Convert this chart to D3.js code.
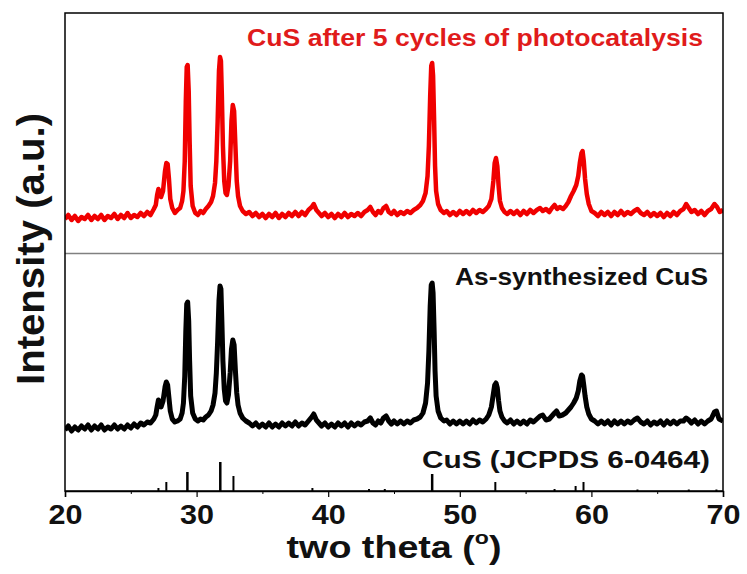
<!DOCTYPE html>
<html>
<head>
<meta charset="utf-8">
<script src="https://cdn.jsdelivr.net/npm/d3@7"></script>
<style>
  body { margin: 0; background: #fff; }
  text { font-family: "Liberation Sans", Arial, sans-serif; font-weight: bold; }
</style>
</head>
<body>
<div id="chart"></div>
<script>
// XRD patterns, [2theta, intensity a.u. incl. stacking offset]
var redPattern = [
  [20.0,272],[20.25,276],[20.5,271],[20.75,275],[21.0,270],[21.25,274],[21.5,272],[21.75,276],[22.0,271],[22.25,275],
  [22.5,272],[22.75,276],[23.0,271],[23.25,275],[23.5,273],[23.75,277],[24.0,272],[24.25,276],[24.5,273],[24.75,278],
  [25.0,273],[25.25,276],[25.5,274],[25.75,278],[26.0,275],[26.25,279],[26.5,276],[26.75,282],[26.9,286],[27.0,296],
  [27.1,302],[27.2,298],[27.3,294],[27.45,300],[27.6,320],[27.7,328],[27.8,327],[27.9,312],[28.0,292],[28.15,283],
  [28.35,278],[28.55,281],[28.75,283],[28.9,290],[29.0,300],[29.1,330],[29.18,390],[29.25,424],[29.32,426],[29.4,400],
  [29.47,350],[29.55,305],[29.7,285],[29.9,278],[30.1,276],[30.3,280],[30.5,278],[30.7,282],[30.9,285],[31.1,289],
  [31.25,295],[31.4,308],[31.5,330],[31.6,370],[31.7,420],[31.78,434],[31.85,430],[31.92,395],[32.0,345],[32.1,310],
  [32.2,298],[32.3,296],[32.42,305],[32.55,330],[32.65,370],[32.75,386],[32.85,380],[32.95,345],[33.05,310],[33.15,295],
  [33.3,285],[33.5,280],[33.75,277],[34.0,279],[34.25,275],[34.5,278],[34.75,274],[35.0,277],[35.25,273],[35.5,277],
  [35.75,274],[36.0,278],[36.25,273],[36.5,277],[36.75,274],[37.0,278],[37.25,275],[37.5,279],[37.75,275],[38.0,279],
  [38.25,276],[38.5,281],[38.75,284],[38.9,287],[39.1,281],[39.3,278],[39.5,275],[39.75,278],[40.0,274],[40.25,277],
  [40.5,273],[40.75,277],[41.0,274],[41.25,278],[41.5,274],[41.75,277],[42.0,275],[42.25,278],[42.5,275],[42.75,279],
  [43.0,281],[43.2,284],[43.4,279],[43.6,276],[43.8,280],[44.0,278],[44.2,283],[44.4,285],[44.6,279],[44.8,277],
  [45.0,280],[45.25,276],[45.5,279],[45.75,277],[46.0,280],[46.25,278],[46.5,281],[46.75,283],[47.0,286],[47.2,290],
  [47.4,298],[47.55,315],[47.65,345],[47.75,395],[47.83,425],[47.9,428],[47.97,415],[48.05,370],[48.12,325],[48.2,300],
  [48.35,287],[48.55,281],[48.8,278],[49.0,280],[49.25,276],[49.5,279],[49.75,276],[50.0,280],[50.25,277],[50.5,280],
  [50.75,277],[51.0,281],[51.25,278],[51.5,281],[51.75,279],[52.0,282],[52.2,285],[52.4,292],[52.55,310],[52.65,328],
  [52.75,333],[52.85,325],[52.95,305],[53.05,290],[53.2,283],[53.4,279],[53.6,277],[53.85,280],[54.1,277],[54.35,280],
  [54.6,276],[54.85,280],[55.1,277],[55.35,281],[55.6,278],[55.85,281],[56.1,283],[56.3,280],[56.55,282],[56.8,279],
  [57.0,283],[57.2,286],[57.4,282],[57.6,284],[57.85,282],[58.05,285],[58.25,289],[58.45,295],[58.65,300],[58.85,306],
  [59.0,315],[59.12,328],[59.25,338],[59.33,340],[59.42,330],[59.52,312],[59.65,297],[59.8,287],[60.0,280],[60.25,278],
  [60.5,275],[60.75,279],[61.0,276],[61.25,279],[61.5,275],[61.75,279],[62.0,276],[62.25,280],[62.5,276],[62.75,279],
  [63.0,277],[63.25,280],[63.5,282],[63.75,278],[64.0,276],[64.25,279],[64.5,275],[64.75,278],[65.0,275],[65.25,278],
  [65.5,274],[65.75,278],[66.0,275],[66.25,279],[66.5,276],[66.75,280],[67.0,282],[67.2,287],[67.4,283],[67.6,279],
  [67.85,281],[68.1,277],[68.35,280],[68.6,276],[68.85,280],[69.1,282],[69.35,287],[69.55,284],[69.75,279],[70.0,281]
];

var blackPattern = [
  [20.0,61],[20.25,65],[20.5,60],[20.75,64],[21.0,61],[21.25,65],[21.5,62],[21.75,66],[22.0,61],[22.25,65],
  [22.5,62],[22.75,66],[23.0,61],[23.25,64],[23.5,62],[23.75,66],[24.0,62],[24.25,65],[24.5,62],[24.75,66],
  [25.0,63],[25.25,67],[25.5,64],[25.75,68],[26.0,66],[26.25,69],[26.5,68],[26.75,72],[26.9,76],[27.0,84],
  [27.1,91],[27.2,88],[27.3,84],[27.45,90],[27.6,104],[27.7,109],[27.8,106],[27.9,93],[28.0,80],[28.15,72],
  [28.35,69],[28.55,70],[28.75,72],[28.9,78],[29.0,88],[29.1,115],[29.18,160],[29.25,187],[29.32,189],[29.4,170],
  [29.47,130],[29.55,95],[29.7,78],[29.9,72],[30.1,70],[30.3,72],[30.5,71],[30.7,74],[30.9,76],[31.1,80],
  [31.25,86],[31.4,98],[31.5,118],[31.6,150],[31.7,190],[31.78,205],[31.85,202],[31.92,170],[32.0,130],[32.1,102],
  [32.2,90],[32.3,88],[32.42,96],[32.55,118],[32.65,142],[32.75,151],[32.85,146],[32.95,120],[33.05,98],[33.15,86],
  [33.3,78],[33.5,73],[33.75,70],[34.0,68],[34.25,65],[34.5,68],[34.75,64],[35.0,67],[35.25,64],[35.5,68],
  [35.75,64],[36.0,67],[36.25,64],[36.5,68],[36.75,65],[37.0,68],[37.25,65],[37.5,69],[37.75,65],[38.0,68],
  [38.25,66],[38.5,70],[38.75,74],[38.9,77],[39.1,71],[39.3,68],[39.5,65],[39.75,68],[40.0,64],[40.25,67],
  [40.5,64],[40.75,68],[41.0,65],[41.25,68],[41.5,64],[41.75,68],[42.0,65],[42.25,68],[42.5,66],[42.75,69],
  [43.0,70],[43.2,73],[43.4,68],[43.6,66],[43.8,70],[44.0,68],[44.2,73],[44.4,75],[44.6,70],[44.8,67],
  [45.0,70],[45.25,67],[45.5,70],[45.75,67],[46.0,70],[46.25,68],[46.5,71],[46.75,72],[47.0,74],[47.2,78],
  [47.4,88],[47.55,108],[47.65,140],[47.75,185],[47.83,206],[47.9,208],[47.97,198],[48.05,160],[48.12,120],[48.2,95],
  [48.35,80],[48.55,73],[48.8,70],[49.0,71],[49.25,67],[49.5,70],[49.75,67],[50.0,70],[50.25,67],[50.5,70],
  [50.75,67],[51.0,71],[51.25,68],[51.5,71],[51.75,69],[52.0,72],[52.2,76],[52.4,84],[52.55,97],[52.65,106],
  [52.75,108],[52.85,103],[52.95,90],[53.05,80],[53.2,74],[53.4,70],[53.6,68],[53.85,71],[54.1,67],[54.35,70],
  [54.6,67],[54.85,70],[55.1,67],[55.35,71],[55.6,69],[55.85,72],[56.1,75],[56.3,76],[56.55,71],[56.8,72],
  [57.0,75],[57.2,78],[57.35,80],[57.55,75],[57.8,76],[58.05,78],[58.25,81],[58.45,84],[58.65,88],[58.85,93],
  [59.0,100],[59.12,110],[59.25,116],[59.33,115],[59.42,106],[59.52,95],[59.65,84],[59.8,77],[60.0,72],[60.25,70],
  [60.5,67],[60.75,70],[61.0,67],[61.25,70],[61.5,66],[61.75,70],[62.0,67],[62.25,70],[62.5,67],[62.75,70],
  [63.0,68],[63.25,71],[63.5,73],[63.75,69],[64.0,67],[64.25,70],[64.5,66],[64.75,69],[65.0,67],[65.25,70],
  [65.5,66],[65.75,70],[66.0,67],[66.25,70],[66.5,67],[66.75,70],[67.0,70],[67.2,73],[67.4,71],[67.6,68],
  [67.85,71],[68.1,67],[68.35,70],[68.6,67],[68.85,70],[69.1,72],[69.35,79],[69.5,80],[69.7,72],[70.0,70]
];

// JCPDS 6-0464 reference lines, [2theta, relative height]
var refLines = [
  [27.1,3],[27.7,9],[29.3,19],[31.8,29],[32.8,15],[38.8,3],[43.1,2],[44.3,2],[47.9,17],
  [52.7,9],[57.2,2],[58.8,5],[59.4,9],[63.5,1.5],[67.4,1.5],[69.5,1.5]
];

var xTicks = [20, 30, 40, 50, 60, 70];
var xMinorTicks = [25, 35, 45, 55, 65];

var labels = {
  red: "CuS after 5 cycles of photocatalysis",
  black: "As-synthesized CuS",
  ref: "CuS (JCPDS 6-0464)"
};

var width = 747, height = 574;
var left = 65, right = 723, plotTop = 13, bottom = 491, divider = 253.5;

var svg = d3.select("#chart").append("svg")
  .attr("width", width).attr("height", height);

var x = d3.scaleLinear().domain([20, 70]).range([left, right]);
var y = d3.scaleLinear().domain([0, bottom - plotTop]).range([bottom, plotTop]);

svg.append("defs").append("clipPath").attr("id", "plotclip")
  .append("rect").attr("x", left).attr("y", plotTop)
  .attr("width", right - left).attr("height", bottom - plotTop);

var line = d3.line()
  .x(function(d) { return x(d[0]); })
  .y(function(d) { return y(d[1]); });

var plot = svg.append("g").attr("clip-path", "url(#plotclip)");

plot.append("path")
  .datum(redPattern)
  .attr("d", line)
  .attr("fill", "none")
  .attr("stroke", "#f00000")
  .attr("stroke-width", 4.5)
  .attr("stroke-linejoin", "round");

plot.append("path")
  .datum(blackPattern)
  .attr("d", line)
  .attr("fill", "none")
  .attr("stroke", "#000")
  .attr("stroke-width", 5)
  .attr("stroke-linejoin", "round");

plot.selectAll("line.ref")
  .data(refLines)
  .enter().append("line")
  .attr("class", "ref")
  .attr("x1", function(d) { return x(d[0]); })
  .attr("x2", function(d) { return x(d[0]); })
  .attr("y1", y(0))
  .attr("y2", function(d) { return y(d[1]); })
  .attr("stroke", "#000")
  .attr("stroke-width", function(d) { return d[1] > 15 ? 2.5 : 2; });

// panel divider
svg.append("line")
  .attr("x1", left).attr("x2", right)
  .attr("y1", divider).attr("y2", divider)
  .attr("stroke", "#808080").attr("stroke-width", 1.5);

// frame
svg.append("rect")
  .attr("x", left).attr("y", plotTop)
  .attr("width", right - left).attr("height", bottom - plotTop)
  .attr("fill", "none").attr("stroke", "#000").attr("stroke-width", 1.5);

// x axis
var xAxis = d3.axisBottom(x).tickValues(xTicks).tickSize(6).tickPadding(8)
  .tickFormat(d3.format("d"));
var gx = svg.append("g").attr("transform", "translate(0," + bottom + ")").call(xAxis);
gx.select(".domain").attr("stroke-width", 1.5);
gx.selectAll(".tick line").attr("stroke-width", 1.2);
gx.selectAll(".tick text")
  .attr("font-size", 27).attr("font-family", "'Liberation Sans', Arial, sans-serif")
  .attr("font-weight", "bold").attr("fill", "#111")
  .attr("textLength", 34).attr("lengthAdjust", "spacingAndGlyphs");

svg.append("g").attr("transform", "translate(0," + bottom + ")")
  .call(d3.axisBottom(x).tickValues(xMinorTicks).tickSize(3).tickFormat(""))
  .call(function(g) { g.select(".domain").remove(); });

// axis titles
var xt = svg.append("text")
  .attr("x", (left + right) / 2).attr("y", 558)
  .attr("text-anchor", "middle")
  .attr("font-size", 31).attr("fill", "#111");
xt.append("tspan").text("two theta (");
xt.append("tspan").attr("font-size", 19).attr("dy", -14).text("o");
xt.append("tspan").attr("dy", 14).text(")");
// stretch to the width of the original title
var xtw = xt.node().getBBox().width;
var cx = (left + right) / 2;
xt.attr("transform", "translate(" + cx + ",0) scale(" + (215 / xtw) + ",1) translate(" + (-cx) + ",0)");

svg.append("text")
  .attr("transform", "translate(44,249) rotate(-90)")
  .attr("text-anchor", "middle")
  .attr("font-size", 39).attr("fill", "#111")
  .attr("textLength", 272).attr("lengthAdjust", "spacingAndGlyphs")
  .text("Intensity (a.u.)");

// series labels
svg.append("text")
  .attr("x", 247).attr("y", 46)
  .attr("font-size", 24).attr("fill", "#e01b1b")
  .attr("textLength", 456).attr("lengthAdjust", "spacingAndGlyphs")
  .text(labels.red);

svg.append("text")
  .attr("x", 455).attr("y", 285)
  .attr("font-size", 24).attr("fill", "#111")
  .attr("textLength", 253).attr("lengthAdjust", "spacingAndGlyphs")
  .text(labels.black);

svg.append("text")
  .attr("x", 422).attr("y", 468)
  .attr("font-size", 24).attr("fill", "#111")
  .attr("textLength", 288).attr("lengthAdjust", "spacingAndGlyphs")
  .text(labels.ref);
</script>
</body>
</html>
